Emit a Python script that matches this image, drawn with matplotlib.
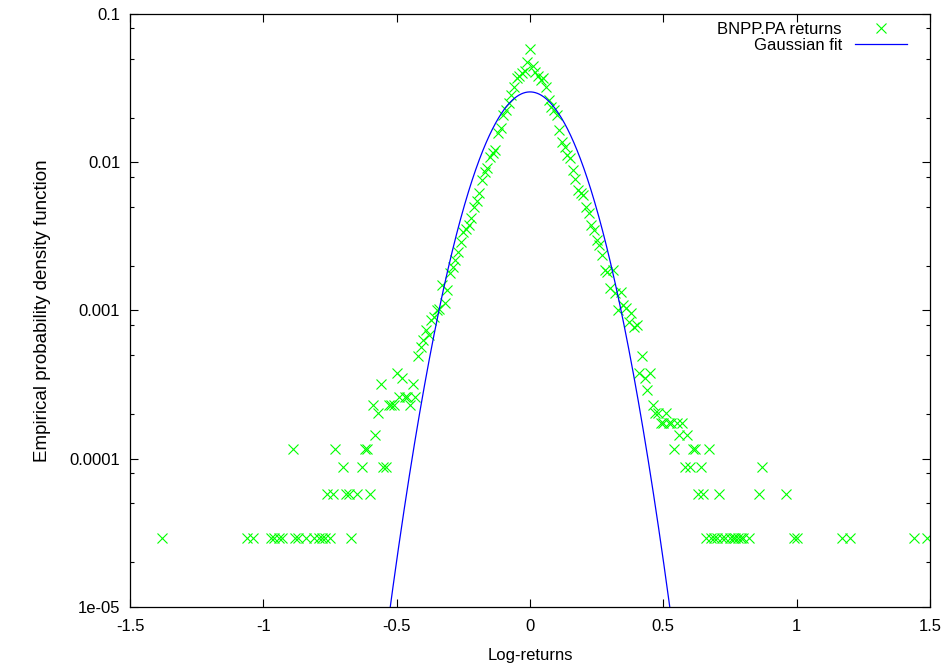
import numpy as np
import matplotlib
matplotlib.use("Agg")
import matplotlib.pyplot as plt
from matplotlib.ticker import FixedLocator, FixedFormatter

# ---------------- data ----------------
returns_x = [
    -1.38, -1.06, -1.04, -0.97, -0.96, -0.94, -0.93, -0.89, -0.88, -0.87,
    -0.84, -0.81, -0.79, -0.78, -0.77, -0.76, -0.75, -0.74, -0.73, -0.70,
    -0.69, -0.68, -0.67, -0.65, -0.63, -0.62, -0.61, -0.60, -0.59, -0.58,
    -0.57, -0.56, -0.55, -0.54, -0.53, -0.52, -0.51, -0.50, -0.49, -0.48,
    -0.47, -0.46, -0.45, -0.44, -0.43, -0.42, -0.41, -0.40, -0.39, -0.38,
    -0.37, -0.36, -0.35, -0.34, -0.33, -0.32, -0.31, -0.30, -0.29, -0.28,
    -0.27, -0.26, -0.25, -0.24, -0.23, -0.22, -0.21, -0.20, -0.19, -0.18,
    -0.17, -0.16, -0.15, -0.14, -0.13, -0.12, -0.11, -0.10, -0.09, -0.08,
    -0.07, -0.06, -0.05, -0.04, -0.03, -0.02, -0.01, 0.00,
    0.01, 0.02, 0.03, 0.04, 0.05, 0.06, 0.07, 0.08, 0.09, 0.10,
    0.11, 0.12, 0.13, 0.14, 0.15, 0.16, 0.17, 0.18, 0.19, 0.20,
    0.21, 0.22, 0.23, 0.24, 0.25, 0.26, 0.27, 0.28, 0.29, 0.30,
    0.31, 0.32, 0.33, 0.34, 0.35, 0.36, 0.37, 0.38, 0.39, 0.40,
    0.41, 0.42, 0.43, 0.44, 0.45, 0.46, 0.47, 0.48, 0.49, 0.50,
    0.51, 0.52, 0.53, 0.54, 0.55, 0.56, 0.57, 0.58, 0.59, 0.60,
    0.61, 0.62, 0.63, 0.64, 0.65, 0.66, 0.67, 0.68, 0.69, 0.70,
    0.71, 0.72, 0.73, 0.75, 0.76, 0.77, 0.78, 0.79, 0.80, 0.82,
    0.86, 0.87, 0.96, 0.99, 1.00, 1.17, 1.20, 1.44, 1.49,
]
returns_pdf = [
    2.9e-5, 2.9e-5, 2.9e-5, 2.9e-5, 2.9e-5, 2.9e-5, 2.9e-5, 1.16e-4, 2.9e-5, 2.9e-5,
    2.9e-5, 2.9e-5, 2.9e-5, 2.9e-5, 2.9e-5, 5.8e-5, 2.9e-5, 5.8e-5, 1.16e-4, 8.7e-5,
    5.8e-5, 5.8e-5, 2.9e-5, 5.8e-5, 8.7e-5, 1.16e-4, 1.16e-4, 5.8e-5, 2.31e-4, 1.45e-4,
    2.02e-4, 3.18e-4, 8.7e-5, 8.7e-5, 2.31e-4, 2.31e-4, 2.31e-4, 3.76e-4, 2.6e-4, 3.47e-4,
    2.6e-4, 2.6e-4, 2.31e-4, 3.18e-4, 2.6e-4, 4.9e-4, 5.62e-4, 6.31e-4, 7.38e-4, 6.82e-4,
    8.61e-4, 9.06e-4, 1.00e-3, 1.02e-3, 1.48e-3, 1.12e-3, 1.38e-3, 1.78e-3, 1.97e-3, 2.19e-3,
    2.49e-3, 2.91e-3, 3.40e-3, 3.52e-3, 3.77e-3, 4.18e-3, 5.01e-3, 5.50e-3, 6.17e-3, 7.59e-3,
    8.63e-3, 9.12e-3, 1.09e-2, 1.15e-2, 1.21e-2, 1.57e-2, 1.70e-2, 2.08e-2, 2.25e-2, 2.51e-2,
    2.82e-2, 3.24e-2, 3.72e-2, 3.80e-2, 3.98e-2, 4.12e-2, 4.76e-2, 5.81e-2,
    4.48e-2, 4.04e-2, 3.84e-2, 3.59e-2, 3.72e-2, 3.24e-2, 2.63e-2, 2.37e-2, 2.25e-2, 2.08e-2,
    1.65e-2, 1.37e-2, 1.26e-2, 1.12e-2, 1.06e-2, 8.91e-3, 7.66e-3, 6.49e-3, 6.17e-3, 6.01e-3,
    5.01e-3, 4.52e-3, 3.77e-3, 3.49e-3, 2.99e-3, 2.76e-3, 2.37e-3, 1.87e-3, 1.82e-3, 1.41e-3,
    1.87e-3, 1.30e-3, 1.01e-3, 1.34e-3, 1.09e-3, 1.03e-3, 8.39e-4, 9.55e-4, 7.76e-4, 7.96e-4,
    3.76e-4, 4.9e-4, 3.47e-4, 2.89e-4, 3.76e-4, 2.31e-4, 2.02e-4, 2.02e-4, 1.73e-4, 1.73e-4,
    2.02e-4, 1.73e-4, 1.73e-4, 1.16e-4, 1.73e-4, 1.45e-4, 1.73e-4, 8.7e-5, 1.45e-4, 8.7e-5,
    1.16e-4, 1.16e-4, 5.8e-5, 8.7e-5, 5.8e-5, 2.9e-5, 1.16e-4, 2.9e-5, 2.9e-5, 2.9e-5,
    5.8e-5, 2.9e-5, 2.9e-5, 2.9e-5, 2.9e-5, 2.9e-5, 2.9e-5, 2.9e-5, 2.9e-5, 2.9e-5,
    5.8e-5, 8.7e-5, 5.8e-5, 2.9e-5, 2.9e-5, 2.9e-5, 2.9e-5, 2.9e-5, 2.9e-5,
]

# Gaussian fit parameters (amplitude, mean, sigma)
fit_amplitude = 0.0298
fit_mean = 0.0
fit_sigma = 0.131

x_ticks = [-1.5, -1.0, -0.5, 0.0, 0.5, 1.0, 1.5]
x_tick_labels = ["-1.5", "-1", "-0.5", "0", "0.5", "1", "1.5"]
y_ticks = [1e-5, 1e-4, 1e-3, 1e-2, 1e-1]
y_tick_labels = ["1e-05", "0.0001", "0.001", "0.01", "0.1"]

series_labels = ["BNPP.PA returns", "Gaussian fit"]
x_label = "Log-returns"
y_label = "Empirical probability density function"

# ---------------- plotting ----------------
plt.rcParams["font.family"] = ["Liberation Sans", "DejaVu Sans"]
plt.rcParams["font.size"] = 12

W, H = 950, 668
fig = plt.figure(figsize=(W / 100, H / 100), dpi=100)
left, right, top, bottom = 130, 930, 14, 606.7
ax = fig.add_axes([left / W, 1 - bottom / H, (right - left) / W, (bottom - top) / H])

ax.plot(returns_x, returns_pdf, linestyle="none", marker="x", color="#00ff00",
        markersize=7.2, markeredgewidth=0.8, label=series_labels[0])

gx = np.linspace(-1.5, 1.5, 2000)
gy = fit_amplitude * np.exp(-(gx - fit_mean) ** 2 / (2 * fit_sigma ** 2))
ax.plot(gx, gy, color="#0000ff", linewidth=0.9, label=series_labels[1])

ax.set_yscale("log")
ax.set_xlim(-1.5, 1.5)
ax.set_ylim(1e-5, 1e-1)

ax.xaxis.set_major_locator(FixedLocator(x_ticks))
ax.xaxis.set_major_formatter(FixedFormatter(x_tick_labels))
ax.yaxis.set_major_locator(FixedLocator(y_ticks))
ax.yaxis.set_major_formatter(FixedFormatter(y_tick_labels))
minor = [m * 10.0 ** e for e in range(-5, -1) for m in (2, 5, 8)]
ax.yaxis.set_minor_locator(FixedLocator(minor))
ax.yaxis.set_minor_formatter(FixedFormatter([""] * len(minor)))
ax.xaxis.set_minor_locator(FixedLocator([]))

ax.tick_params(which="both", direction="in", top=True, right=True, width=0.8,
               colors="black", labelsize=12)
ax.tick_params(which="major", length=6)
ax.tick_params(axis="x", which="major", pad=9)
ax.tick_params(axis="y", which="major", pad=7)
ax.tick_params(which="minor", length=3)
for s in ax.spines.values():
    s.set_linewidth(0.9)

ax.set_xlabel(x_label, fontsize=12, labelpad=10)
ax.set_ylabel(y_label, fontsize=13.5, labelpad=13)

leg = ax.legend(loc="upper right", frameon=False, markerfirst=False, numpoints=1,
                bbox_to_anchor=(1 - 23 / 800, 1 - 8 / 592.7), borderaxespad=0,
                borderpad=0, handlelength=3.1, handletextpad=0.8, labelspacing=0.05,
                fontsize=12)

fig.savefig("out.png", dpi=100)
